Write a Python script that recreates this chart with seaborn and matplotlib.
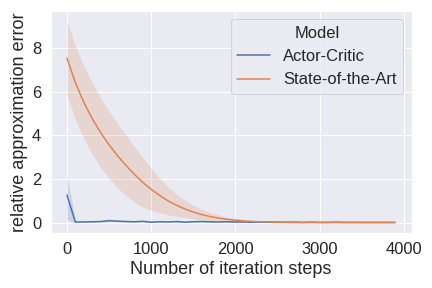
import numpy as np
import pandas as pd
import matplotlib
matplotlib.use("Agg")
import matplotlib.pyplot as plt
import seaborn as sns

steps = list(range(0, 4000, 100))

# mean relative error per model
actor_critic = [1.26, 0.03, 0.03, 0.04, 0.05, 0.09, 0.07, 0.05, 0.04, 0.06,
                0.02, 0.04, 0.03, 0.05, 0.02, 0.04, 0.05, 0.04, 0.03, 0.04,
                0.03, 0.03, 0.02, 0.03, 0.03, 0.02, 0.02, 0.02, 0.01, 0.02,
                0.01, 0.01, 0.02, 0.01, 0.01, 0.01, 0.01, 0.01, 0.01, 0.01]
actor_critic_lo = [0.11, 0.00, 0.01, 0.02, 0.02, 0.05, 0.04, 0.03, 0.02, 0.03,
                   0.00, 0.02, 0.01, 0.03, 0.00, 0.02, 0.03, 0.02, 0.01, 0.02,
                   0.01, 0.01, 0.00, 0.01, 0.01, 0.00, 0.00, 0.00, 0.00, 0.00,
                   0.00, 0.00, 0.00, 0.00, 0.00, 0.00, 0.00, 0.00, 0.00, 0.00]
actor_critic_hi = [2.22, 0.07, 0.06, 0.07, 0.08, 0.13, 0.11, 0.08, 0.07, 0.09,
                   0.05, 0.07, 0.06, 0.08, 0.05, 0.07, 0.08, 0.07, 0.06, 0.07,
                   0.06, 0.05, 0.04, 0.05, 0.05, 0.04, 0.04, 0.04, 0.03, 0.04,
                   0.03, 0.03, 0.04, 0.03, 0.03, 0.03, 0.02, 0.02, 0.02, 0.02]

state_of_art = [7.55, 6.42, 5.52, 4.77, 4.13, 3.57, 3.07, 2.63, 2.22, 1.85,
                1.53, 1.25, 1.00, 0.80, 0.63, 0.485, 0.371, 0.280, 0.209, 0.153,
                0.111, 0.079, 0.055, 0.038, 0.026, 0.018, 0.012, 0.009, 0.007, 0.006,
                0.005, 0.005, 0.004, 0.004, 0.004, 0.003, 0.003, 0.003, 0.003, 0.003]
state_of_art_hw = [1.70, 1.69, 1.67, 1.64, 1.60, 1.55, 1.48, 1.39, 1.27, 1.13,
                   0.97, 0.80, 0.64, 0.51, 0.40, 0.31, 0.24, 0.18, 0.14, 0.105,
                   0.08, 0.06, 0.045, 0.033, 0.024, 0.017, 0.012, 0.009, 0.007, 0.006,
                   0.005, 0.005, 0.004, 0.004, 0.004, 0.003, 0.003, 0.003, 0.003, 0.003]

models = ["Actor-Critic", "State-of-the-Art"]

sns.set_theme(font_scale=1.5)
plt.rcParams['font.family'] = ['Liberation Sans', 'DejaVu Sans']

df = pd.concat([
    pd.DataFrame({"step": steps, "error": actor_critic, "Model": models[0]}),
    pd.DataFrame({"step": steps, "error": state_of_art, "Model": models[1]}),
])

fig, ax = plt.subplots(figsize=(6, 4), dpi=72)
sns.lineplot(data=df, x="step", y="error", hue="Model", errorbar=None, ax=ax)

colors = sns.color_palette()
sota = np.array(state_of_art)
sota_hw = np.array(state_of_art_hw)
ax.fill_between(steps, actor_critic_lo, actor_critic_hi, color=colors[0], alpha=0.2, linewidth=0)
ax.fill_between(steps, sota - sota_hw, sota + sota_hw, color=colors[1], alpha=0.2, linewidth=0)

ax.set_xlabel("Number of iteration steps")
ax.set_ylabel("relative approximation error")
ax.set_xticks([0, 1000, 2000, 3000, 4000])
ax.set_yticks([0, 2, 4, 6, 8])
ax.get_legend().get_title().set_fontsize(16.5)

fig.subplots_adjust(left=0.117, right=0.953, top=0.962, bottom=0.192)
fig.savefig("out.png", dpi=72)
